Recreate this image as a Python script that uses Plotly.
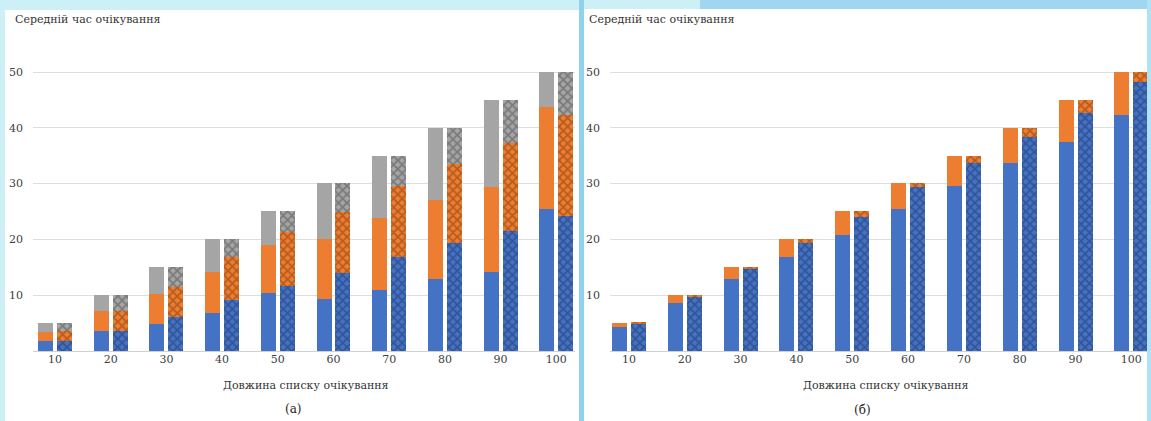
import numpy as np
import plotly.graph_objects as go

W, H = 1151, 421

categories = ["10", "20", "30", "40", "50", "60", "70", "80", "90", "100"]
y_ticks = [0, 10, 20, 30, 40, 50, 60]
y_tick_text = ["", "10", "20", "30", "40", "50", ""]

# Panel (а): solid bars (blue, orange, gray) and hatched bars (blue, orange, gray)
a_solid_blue = [1.7, 3.5, 4.8, 6.8, 10.4, 9.3, 10.9, 12.9, 14.2, 25.5]
a_solid_orange = [1.7, 3.7, 5.4, 7.4, 8.6, 10.8, 12.9, 14.2, 15.2, 18.2]
a_solid_gray = [1.6, 2.8, 4.8, 5.8, 6.0, 9.9, 11.2, 12.9, 15.6, 6.3]
a_hatch_blue = [1.8, 3.5, 6.1, 9.1, 11.6, 14.0, 16.8, 19.4, 21.5, 24.2]
a_hatch_orange = [1.7, 3.6, 5.4, 7.8, 9.7, 10.9, 12.8, 14.1, 15.8, 18.1]
a_hatch_gray = [1.5, 2.9, 3.5, 3.1, 3.7, 5.1, 5.4, 6.5, 7.7, 7.7]

# Panel (б)
b_solid_blue = [4.2, 8.5, 12.8, 16.8, 20.8, 25.4, 29.6, 33.7, 37.5, 42.2]
b_solid_orange = [0.8, 1.5, 2.2, 3.2, 4.2, 4.6, 5.4, 6.3, 7.5, 7.8]
b_hatch_blue = [4.9, 9.8, 14.6, 19.3, 24.0, 29.4, 33.7, 38.4, 42.7, 48.2]
b_hatch_orange = [0.1, 0.2, 0.4, 0.7, 1.0, 0.6, 1.3, 1.6, 2.3, 1.8]

BLUE, ORANGE, GRAY = "#4472C4", "#ED7D31", "#A5A5A5"
DARK = {BLUE: "#1f3564", ORANGE: "#7a3a0c", GRAY: "#4d4d4d"}
BAR_W = 0.27
OFF_SOLID = -0.305
OFF_HATCH = 0.035

fig = go.Figure()


def add_stack(series, colors, xa, ya, offset, hatched):
    base = np.zeros(len(categories))
    for vals, col in zip(series, colors):
        vals = np.array(vals, dtype=float)
        marker = dict(color=col, line=dict(width=0))
        if hatched:
            marker["pattern"] = dict(shape="x", fgcolor=DARK[col], bgcolor=col,
                                     size=6, solidity=0.5)
        fig.add_trace(go.Bar(x=categories, y=vals, base=base.copy(), width=BAR_W,
                             offset=offset, marker=marker, xaxis=xa, yaxis=ya,
                             showlegend=False, hoverinfo="skip"))
        base = base + vals


add_stack([a_solid_blue, a_solid_orange, a_solid_gray], [BLUE, ORANGE, GRAY], "x", "y", OFF_SOLID, False)
add_stack([a_hatch_blue, a_hatch_orange, a_hatch_gray], [BLUE, ORANGE, GRAY], "x", "y", OFF_HATCH, True)
add_stack([b_solid_blue, b_solid_orange], [BLUE, ORANGE], "x2", "y2", OFF_SOLID, False)
add_stack([b_hatch_blue, b_hatch_orange], [BLUE, ORANGE], "x2", "y2", OFF_HATCH, True)

FONT = "DejaVu Serif"
tickfont = dict(family=FONT, size=11, color="#404040")


def px_x(p):
    return p / W


def px_y(p):
    return 1 - p / H


ydom = [px_y(351), px_y(16.2)]
yax = dict(range=[0, 60], tickvals=y_ticks, ticktext=y_tick_text, showgrid=True,
           gridcolor="#dedede", gridwidth=1, zeroline=True, zerolinecolor="#d0d0d0",
           zerolinewidth=1, tickfont=tickfont, ticks="", ticklabelstandoff=9,
           fixedrange=True, domain=ydom)
xax = dict(type="category", showgrid=False, tickfont=tickfont, ticks="",
           showline=False, fixedrange=True)

layout = dict(
    width=W, height=H, margin=dict(l=0, r=0, t=0, b=0),
    paper_bgcolor="#cdeff6", plot_bgcolor="rgba(0,0,0,0)",
    barmode="overlay", bargap=0,
    font=dict(family=FONT),
    xaxis=dict(xax, domain=[px_x(33), px_x(575)], range=[-0.395, 9.336], anchor="y"),
    yaxis=dict(yax, anchor="x"),
    xaxis2=dict(xax, domain=[px_x(610), px_x(1147)], range=[-0.34, 9.28], anchor="y2"),
    yaxis2=dict(yax, anchor="x2"),
)
fig.update_layout(**layout)

shapes = [
    dict(type="rect", xref="paper", yref="paper", x0=px_x(5), x1=px_x(579),
         y0=0, y1=px_y(10), fillcolor="white", line=dict(width=0), layer="below"),
    dict(type="rect", xref="paper", yref="paper", x0=px_x(584), x1=px_x(1147),
         y0=0, y1=px_y(9), fillcolor="white", line=dict(width=0), layer="below"),
    dict(type="rect", xref="paper", yref="paper", x0=px_x(579), x1=px_x(584),
         y0=0, y1=1, fillcolor="#8fd2f0", line=dict(width=0), layer="below"),
    dict(type="rect", xref="paper", yref="paper", x0=px_x(700), x1=1,
         y0=px_y(9), y1=1, fillcolor="#9fd6f0", line=dict(width=0), layer="below"),
    dict(type="rect", xref="paper", yref="paper", x0=px_x(1147), x1=1,
         y0=0, y1=1, fillcolor="#aee2f4", line=dict(width=0), layer="below"),
]
fig.update_layout(shapes=shapes)

annotations = []
for x0, xt_c in [(12, 306), (586, 886)]:
    annotations.append(dict(text="Середній час очікування", xref="paper", yref="paper",
                            x=px_x(x0), y=px_y(19), xanchor="left", yanchor="middle",
                            showarrow=False, bgcolor="white", borderpad=2,
                            font=dict(family=FONT, size=11, color="#333333")))
    annotations.append(dict(text="Довжина списку очікування", xref="paper", yref="paper",
                            x=px_x(xt_c), y=px_y(385), xanchor="center", yanchor="middle",
                            showarrow=False, font=dict(family=FONT, size=11, color="#333333")))
annotations.append(dict(text="(а)", xref="paper", yref="paper", x=px_x(293), y=px_y(409),
                        xanchor="center", yanchor="middle", showarrow=False,
                        font=dict(family=FONT, size=12, color="#222222")))
annotations.append(dict(text="(б)", xref="paper", yref="paper", x=px_x(862), y=px_y(410),
                        xanchor="center", yanchor="middle", showarrow=False,
                        font=dict(family=FONT, size=12, color="#222222")))
fig.update_layout(annotations=annotations)

fig.write_html("out.html")
